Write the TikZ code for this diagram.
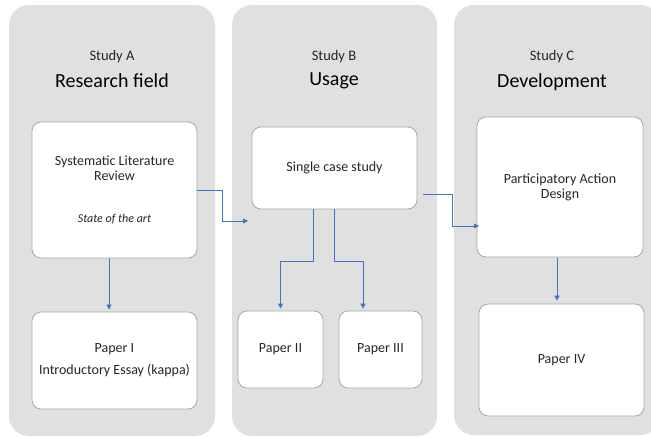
\documentclass[tikz,border=0pt]{standalone}
\usepackage{fontspec}
\setmainfont{Carlito}
\usetikzlibrary{arrows.meta}
\definecolor{panelgray}{HTML}{E0E0E0}
\definecolor{cardline}{HTML}{A8A8A8}
\definecolor{flowblue}{HTML}{4472C4}
\definecolor{ink}{HTML}{262626}
\begin{document}
\begin{tikzpicture}[x=1pt,y=-1pt,
  panel/.style={fill=panelgray,draw=none,rounded corners=20pt},
  card/.style={draw=cardline,fill=white,rounded corners=9pt,line width=0.8pt,
    inner sep=0pt,text=ink,align=center,font=\fontsize{14}{15}\selectfont},
  studylabel/.style={text=ink,font=\fontsize{14.5}{16}\selectfont,inner sep=0pt},
  studytitle/.style={text=black,font=\fontsize{20}{22}\selectfont,inner sep=0pt},
  note/.style={text=ink,font=\fontsize{12}{14}\selectfont\itshape,inner sep=0pt},
  body/.style={text=ink,font=\fontsize{14}{15}\selectfont,align=center,inner sep=0pt},
  flow/.style={draw=flowblue,line width=0.8pt,-{Triangle[length=5pt,width=5pt]}}]
\useasboundingbox (0,0) rectangle (651,437);

% three study columns
\fill[panel] (9,5) rectangle (215,436);
\fill[panel] (232,5) rectangle (437,436);
\fill[panel] (454,5) rectangle (660,435);

% column headings
\node[studylabel] (hA) at (112,57) {Study A};
\node[studytitle] (tA) at (112,81) {Research field};
\node[studylabel] (hB) at (334,57) {Study B};
\node[studytitle] (tB) at (334,81) {Usage};
\node[studylabel] (hC) at (552,57) {Study C};
\node[studytitle] (tC) at (552,82) {Development};

% Study A
\node[card,minimum width=165pt,minimum height=136pt] (slr) at (114.5,190) {};
\node[body] (slrtext) at (114.5,168) {Systematic Literature\\Review};
\node[note] (slrnote) at (114.5,219) {State of the art};
\node[card,minimum width=165pt,minimum height=97pt,
  font=\fontsize{14}{22}\selectfont] (p1) at (114.5,360.5) {Paper I\\Introductory Essay (kappa)};

% Study B
\node[card,minimum width=165pt,minimum height=82pt] (scs) at (334.5,168) {Single case study};
\node[card,minimum width=85pt,minimum height=77pt] (p2) at (280.5,349.5) {Paper II};
\node[card,minimum width=83pt,minimum height=77pt] (p3) at (380.5,349.5) {Paper III};

% Study C
\node[card,minimum width=166pt,minimum height=140pt] (pad) at (560,187) {Participatory Action\\Design};
\node[card,minimum width=165pt,minimum height=112pt] (p4) at (561.5,360) {Paper IV};

% connectors
\coordinate (tipA) at (248,221);
\coordinate (startB) at (423,194);
\coordinate (padin) at (479,226);
\coordinate (padout) at (557,258);

\draw[flow,shorten >=2pt] ([xshift=-5.5pt]slr.south) -- ([xshift=-5.5pt]p1.north);
\draw[flow] (slr.east) -- ++(25,0) |- (tipA);
\draw[flow] (startB) -- ++(29,0) |- (padin);
\draw[flow,shorten >=2pt] ([xshift=-21.5pt]scs.south) -- ++(0,52) -| (p2.north);
\draw[flow,shorten >=2pt] (scs.south) -- ++(0,52) -| ([xshift=-17.5pt]p3.north);
\draw[flow,shorten >=3pt] (padout) -- (padout |- p4.north);
\end{tikzpicture}
\end{document}
